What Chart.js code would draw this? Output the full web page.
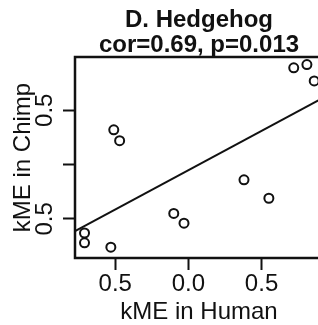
<!DOCTYPE html>
<html>
<head>
<meta charset="utf-8">
<script src="https://cdn.jsdelivr.net/npm/chart.js@4.4.1/dist/chart.umd.min.js"></script>
<style>
  html, body { margin: 0; padding: 0; background: #fff; overflow: hidden; }
  #wrap { width: 318px; height: 325px; overflow: hidden; }
</style>
</head>
<body>
<div id="wrap"><canvas id="hedgehog" width="400" height="325"></canvas></div>
<script>
// kME values, one point per gene
const humanKME = [-0.71, -0.71, -0.53, -0.51, -0.47, -0.10, -0.03, 0.38, 0.55, 0.72, 0.81, 0.86];
const chimpKME = [-0.63, -0.72, -0.76, 0.32, 0.22, -0.45, -0.54, -0.14, -0.31, 0.89, 0.92, 0.77];

const titleLines = ['D. Hedgehog', 'cor=0.69, p=0.013'];
const xTickValues = [-0.5, 0, 0.5];
const xTickLabels = ['0.5', '0.0', '0.5'];
const yTickValues = [-0.5, 0, 0.5];
const yTickLabels = ['0.5', '', '0.5'];
const xRange = [-0.775, 0.92];
const yRange = [-0.86, 0.99];

const FONT = '"Liberation Sans", Arial, Helvetica, sans-serif';
const INK = '#111';

// Least squares line, like abline(lm(y ~ x))
function fitLine(xs, ys) {
    const n = xs.length;
    const mx = xs.reduce((a, b) => a + b, 0) / n;
    const my = ys.reduce((a, b) => a + b, 0) / n;
    let sxy = 0, sxx = 0;
    for (let i = 0; i < n; i++) {
        sxy += (xs[i] - mx) * (ys[i] - my);
        sxx += (xs[i] - mx) * (xs[i] - mx);
    }
    const slope = sxy / sxx;
    return { slope: slope, intercept: my - slope * mx };
}

const fit = fitLine(humanKME, chimpKME);
const points = humanKME.map((x, i) => ({ x: x, y: chimpKME[i] }));
const fitPoints = xRange.map(x => ({ x: x, y: fit.intercept + fit.slope * x }));

// R style box round the plot region, and the title centred over it
const boxPlugin = {
    id: 'box',
    afterDraw(chart) {
        const a = chart.chartArea;
        const ctx = chart.ctx;
        ctx.save();
        ctx.strokeStyle = INK;
        ctx.lineWidth = 2.5;
        ctx.strokeRect(a.left, a.top, a.right - a.left, a.bottom - a.top);

        ctx.fillStyle = INK;
        ctx.font = 'bold 24px ' + FONT;
        ctx.textAlign = 'center';
        ctx.textBaseline = 'alphabetic';
        const cx = (a.left + a.right) / 2;
        titleLines.forEach((line, i) => ctx.fillText(line, cx, 27 + i * 25));
        ctx.restore();
    }
};

function axisOptions(range, tickValues, tickLabels, titleText, isY) {
    return {
        type: 'linear',
        min: range[0],
        max: range[1],
        afterBuildTicks: axis => { axis.ticks = tickValues.map(v => ({ value: v })); },
        ticks: {
            autoSkip: false,
            minRotation: isY ? 90 : 0,
            maxRotation: isY ? 90 : 0,
            crossAlign: isY ? 'center' : 'near',
            padding: isY ? 1 : 2,
            color: INK,
            font: { family: FONT, size: 24, lineHeight: 1 },
            callback: (v, i) => tickLabels[i]
        },
        grid: {
            display: true,
            drawOnChartArea: false,
            drawTicks: true,
            tickLength: 12,
            tickWidth: 2,
            tickColor: INK
        },
        border: { display: false },
        title: {
            display: true,
            text: titleText,
            color: INK,
            font: { family: FONT, size: 24, lineHeight: 1 },
            padding: isY ? { top: 4, bottom: 2 } : { top: 2, bottom: 1 }
        }
    };
}

new Chart(document.getElementById('hedgehog'), {
    type: 'scatter',
    data: {
        datasets: [
            {
                data: points,
                pointRadius: 4.5,
                pointBorderWidth: 2,
                borderColor: INK,
                backgroundColor: 'rgba(0,0,0,0)',
                pointBackgroundColor: 'rgba(0,0,0,0)'
            },
            {
                type: 'line',
                data: fitPoints,
                borderColor: INK,
                borderWidth: 2,
                pointRadius: 0,
                fill: false
            }
        ]
    },
    options: {
        responsive: false,
        animation: false,
        layout: { padding: { left: 7, right: 77, top: 57, bottom: 0 } },
        scales: {
            x: axisOptions(xRange, xTickValues, xTickLabels, 'kME in Human', false),
            y: axisOptions(yRange, yTickValues, yTickLabels, 'kME in Chimp', true)
        },
        plugins: {
            legend: { display: false },
            tooltip: { enabled: false },
            title: { display: false }
        }
    },
    plugins: [boxPlugin]
});
</script>
</body>
</html>
